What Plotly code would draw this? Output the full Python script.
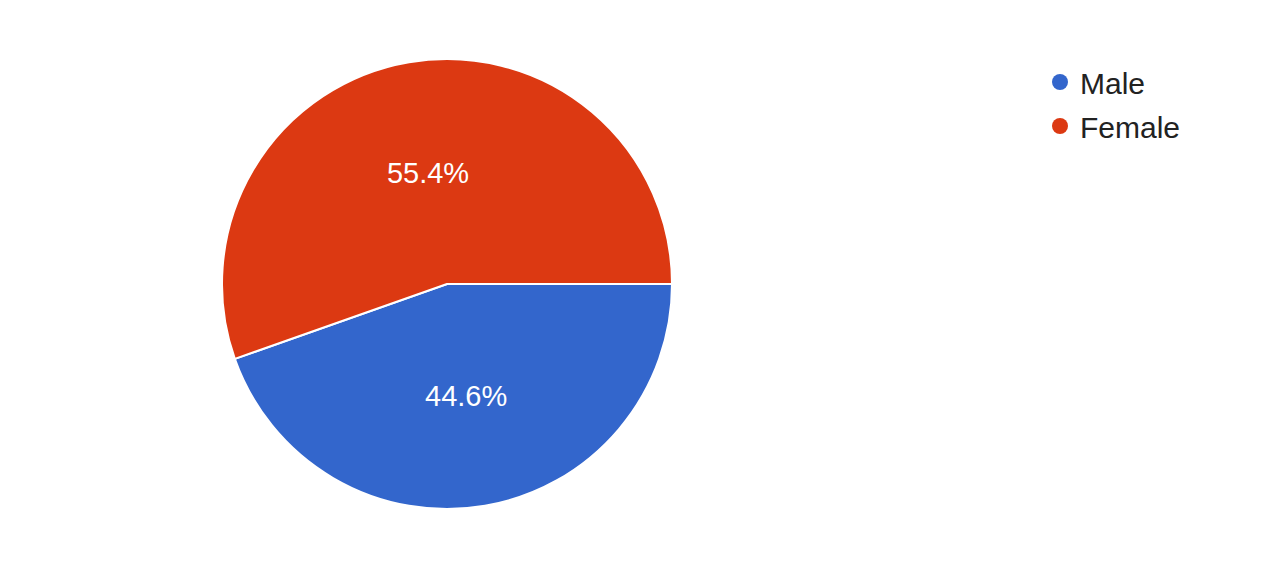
import plotly.graph_objects as go

labels = ["Male", "Female"]
values = [44.6, 55.4]
colors = ["#3366cc", "#dc3912"]

W, H = 1287, 583
cx, cy, r = 439, 276, 225

fig = go.Figure()
fig.add_trace(go.Pie(
    labels=labels,
    values=values,
    sort=False,
    direction="clockwise",
    rotation=90,
    marker=dict(colors=colors, line=dict(color="white", width=2)),
    texttemplate="%{percent:.1%}",
    textposition="inside",
    insidetextorientation="horizontal",
    textfont=dict(color="white", size=29, family="Liberation Sans, Arial, sans-serif"),
    hoverinfo="label+percent",
    showlegend=False,
    domain=dict(x=[(cx - r) / W, (cx + r) / W], y=[1 - (cy + r) / H, 1 - (cy - r) / H]),
))

# legend entries with round markers, matching the slice colours
for lab, col in zip(labels, colors):
    fig.add_trace(go.Scatter(
        x=[None], y=[None], mode="markers", name=lab, legendgroup=lab,
        marker=dict(symbol="circle", size=30, color=col),
        hoverinfo="skip",
    ))

fig.update_layout(
    width=W, height=H,
    margin=dict(l=0, r=0, t=0, b=0),
    paper_bgcolor="white",
    plot_bgcolor="white",
    xaxis=dict(visible=False),
    yaxis=dict(visible=False),
    legend=dict(
        x=1032 / W, y=1 - 48 / H, xanchor="left", yanchor="top",
        font=dict(size=30, color="#222222", family="Liberation Sans, Arial, sans-serif"),
        itemsizing="trace",
        tracegroupgap=2,
    ),
)

fig.write_html("out.html")
